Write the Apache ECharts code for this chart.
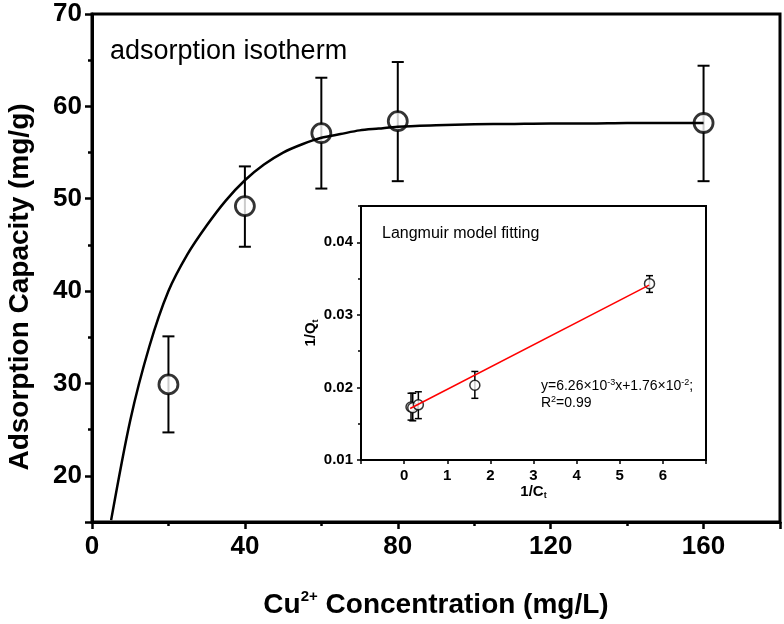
<!DOCTYPE html>
<html>
<head>
<meta charset="utf-8">
<script src="https://cdn.jsdelivr.net/npm/echarts@6/dist/echarts.min.js"></script>
<style>html,body{margin:0;padding:0;background:#fff}#c{width:784px;height:624px}</style>
</head>
<body>
<div id="c"></div>
<script>
// ---- main chart data ----
const mainX = [20, 40, 60, 80, 160];
const mainY = [29.9, 49.2, 57.1, 58.4, 58.2];
const mainErrLow = [24.7, 44.8, 51.1, 51.9, 51.9];
const mainErrHigh = [35.1, 53.5, 63.1, 64.8, 64.4];
// fitted isotherm curve
const curveX = [5, 10, 15, 20, 25, 30, 35, 40, 45, 50, 55, 60, 65, 70, 75, 80, 90, 100, 110, 120, 130, 140, 150, 160];
const curveY = [15.2, 26.0, 34.0, 40.0, 44.0, 47.1, 49.8, 52.0, 53.7, 55.0, 55.9, 56.6, 57.0, 57.4, 57.6, 57.8, 57.95, 58.05, 58.1, 58.15, 58.15, 58.2, 58.2, 58.2];
const mainXTicks = [0, 40, 80, 120, 160];
const mainYTicks = [20, 30, 40, 50, 60, 70];

// ---- inset (Langmuir) data ----
const insetX = [0.16, 0.2, 0.33, 1.64, 5.69];
const insetY = [0.0173, 0.0172, 0.0176, 0.0203, 0.0343];
const insetErrLow = [0.0155, 0.0154, 0.0157, 0.0185, 0.0331];
const insetErrHigh = [0.0192, 0.0192, 0.0194, 0.0222, 0.0354];
const fitX = [0.14, 5.68];
const fitY = [0.0171, 0.0341];
const insetXTicks = [0, 1, 2, 3, 4, 5, 6];

const F = '"Liberation Sans", Arial, sans-serif';
const zip = (a, b) => a.map((v, i) => [v, b[i]]);
const zip3 = (a, b, c) => a.map((v, i) => [v, b[i], c[i]]);

function errRender(cap, lw) {
  return function (params, api) {
    const x = api.value(0), lo = api.value(1), hi = api.value(2);
    const pHi = api.coord([x, hi]);
    const pLo = api.coord([x, lo]);
    const st = { stroke: '#000', lineWidth: lw };
    return {
      type: 'group',
      children: [
        { type: 'line', shape: { x1: pHi[0], y1: pHi[1], x2: pLo[0], y2: pLo[1] }, style: st },
        { type: 'line', shape: { x1: pHi[0] - cap, y1: pHi[1], x2: pHi[0] + cap, y2: pHi[1] }, style: st },
        { type: 'line', shape: { x1: pLo[0] - cap, y1: pLo[1], x2: pLo[0] + cap, y2: pLo[1] }, style: st }
      ]
    };
  };
}

const blackLine = (w) => ({ show: true, onZero: false, lineStyle: { color: '#000', width: w } });

const chart = echarts.init(document.getElementById('c'), null, { renderer: 'canvas' });
chart.setOption({
  animation: false,
  backgroundColor: '#fff',
  grid: [
    { left: 92, top: 14, width: 688, height: 508, show: true, borderColor: '#000', borderWidth: 3, backgroundColor: 'transparent' },
    { left: 361, top: 206, width: 345, height: 254, show: true, borderColor: '#000', borderWidth: 2, backgroundColor: '#fff' }
  ],
  xAxis: [
    { gridIndex: 0, type: 'value', position: 'bottom', min: 0, max: 180, interval: 40,
      axisLine: blackLine(3), splitLine: { show: false },
      axisTick: { show: true, inside: false, length: 7, lineStyle: { color: '#000', width: 2.5 } },
      axisLabel: { margin: 12, color: '#000', fontFamily: F, fontWeight: 'bold', fontSize: 26,
        formatter: v => mainXTicks.includes(v) ? String(v) : '' } },
    { gridIndex: 0, type: 'value', position: 'bottom', min: 0, max: 180, interval: 20,
      axisLine: { show: false, onZero: false }, splitLine: { show: false }, axisLabel: { show: false },
      axisTick: { show: true, inside: false, length: 4, lineStyle: { color: '#000', width: 2.5 } } },
    { gridIndex: 1, type: 'value', position: 'bottom', min: -1, max: 7, interval: 1,
      axisLine: blackLine(2), splitLine: { show: false },
      axisTick: { show: true, inside: false, length: 4, lineStyle: { color: '#000', width: 1.5 } },
      axisLabel: { margin: 8, color: '#000', fontFamily: F, fontWeight: 'bold', fontSize: 15,
        formatter: v => insetXTicks.includes(v) ? String(v) : '' },
      name: '{a|1/C}{b|t}', nameLocation: 'middle', nameGap: 22,
      nameTextStyle: { rich: {
        a: { fontFamily: F, fontWeight: 'bold', fontSize: 15, lineHeight: 18, color: '#000' },
        b: { fontFamily: F, fontWeight: 'bold', fontSize: 9, lineHeight: 9, verticalAlign: 'bottom', color: '#000' } } } }
  ],
  yAxis: [
    { gridIndex: 0, type: 'value', position: 'left', min: 15, max: 70,
      axisLine: blackLine(3), splitLine: { show: false },
      axisTick: { show: true, inside: false, length: 7, lineStyle: { color: '#000', width: 2.5 } },
      axisLabel: { margin: 10, color: '#000', fontFamily: F, fontWeight: 'bold', fontSize: 26,
        formatter: v => mainYTicks.includes(v) ? String(v) : '' } },
    { gridIndex: 0, type: 'value', position: 'left', min: 15, max: 70, interval: 5,
      axisLine: { show: false, onZero: false }, splitLine: { show: false }, axisLabel: { show: false },
      axisTick: { show: true, inside: false, length: 4, lineStyle: { color: '#000', width: 2.5 } } },
    { gridIndex: 1, type: 'value', position: 'left', min: 0.01, max: 0.045, interval: 0.01,
      axisLine: blackLine(2), splitLine: { show: false },
      axisTick: { show: true, inside: false, length: 4, lineStyle: { color: '#000', width: 1.5 } },
      axisLabel: { margin: 8, color: '#000', fontFamily: F, fontWeight: 'bold', fontSize: 15, showMaxLabel: false,
        formatter: v => { const s = Math.round(v * 1000) / 1000; return [0.01, 0.02, 0.03, 0.04].includes(s) ? s.toFixed(2) : ''; } },
      name: '{a|1/Q}{b|t}', nameLocation: 'middle', nameGap: 40, nameRotate: 90,
      nameTextStyle: { rich: {
        a: { fontFamily: F, fontWeight: 'bold', fontSize: 15, lineHeight: 18, color: '#000' },
        b: { fontFamily: F, fontWeight: 'bold', fontSize: 9, lineHeight: 9, verticalAlign: 'bottom', color: '#000' } } } },
    { gridIndex: 1, type: 'value', position: 'left', min: 0.01, max: 0.045, interval: 0.005,
      axisLine: { show: false, onZero: false }, splitLine: { show: false }, axisLabel: { show: false },
      axisTick: { show: true, inside: false, length: 3, lineStyle: { color: '#000', width: 1.5 } } }
  ],
  series: [
    { type: 'custom', xAxisIndex: 0, yAxisIndex: 0, renderItem: errRender(6, 2),
      data: zip3(mainX, mainErrLow, mainErrHigh), encode: { x: 0, y: [1, 2] }, z: 2 },
    { type: 'scatter', xAxisIndex: 0, yAxisIndex: 0, data: zip(mainX, mainY), symbol: 'circle', symbolSize: 19,
      itemStyle: { color: '#fff', borderColor: '#000', borderWidth: 2.8 }, z: 3 },
    { type: 'line', xAxisIndex: 0, yAxisIndex: 0, data: zip(curveX, curveY), smooth: 0.3, showSymbol: false,
      lineStyle: { color: '#000', width: 2.5 }, z: 4 },
    { type: 'custom', xAxisIndex: 2, yAxisIndex: 2, renderItem: errRender(3.5, 1.5),
      data: zip3(insetX, insetErrLow, insetErrHigh), encode: { x: 0, y: [1, 2] }, z: 5 },
    { type: 'scatter', xAxisIndex: 2, yAxisIndex: 2, data: zip(insetX, insetY), symbol: 'circle', symbolSize: 10,
      itemStyle: { color: '#fff', borderColor: '#000', borderWidth: 1.5 }, z: 6 },
    { type: 'line', xAxisIndex: 2, yAxisIndex: 2, data: zip(fitX, fitY), showSymbol: false,
      lineStyle: { color: '#ff0000', width: 1.5 }, z: 7 }
  ],
  graphic: [
    { type: 'text', left: 110, top: 38, z: 10,
      style: { text: 'adsorption isotherm', font: '27px "Liberation Sans", Arial, sans-serif', fill: '#000' } },
    { type: 'text', x: 20, y: 287, rotation: Math.PI / 2, z: 10,
      style: { text: 'Adsorption Capacity (mg/g)', font: 'bold 28px "Liberation Sans", Arial, sans-serif', fill: '#000',
        align: 'center', verticalAlign: 'middle' } },
    { type: 'text', x: 436, y: 605, z: 10,
      style: {
        text: '{a|Cu}{s|2+}{a| Concentration (mg/L)}', align: 'center', verticalAlign: 'middle',
        rich: {
          a: { fontFamily: F, fontWeight: 'bold', fontSize: 28, lineHeight: 32, fill: '#000' },
          s: { fontFamily: F, fontWeight: 'bold', fontSize: 15, lineHeight: 15, verticalAlign: 'top', fill: '#000' }
        } } },
    { type: 'text', left: 382, top: 226, z: 10,
      style: { text: 'Langmuir model fitting', font: '16px "Liberation Sans", Arial, sans-serif', fill: '#000' } },
    { type: 'text', left: 541, top: 378, z: 10,
      style: {
        text: '{n|y=6.26×10}{s|-3}{n|x+1.76×10}{s|-2}{n|;}\n{n|R}{s|2}{n|=0.99}',
        rich: {
          n: { fontFamily: F, fontSize: 14, lineHeight: 17, fill: '#000' },
          s: { fontFamily: F, fontSize: 9, lineHeight: 9, verticalAlign: 'top', fill: '#000' }
        }
      } }
  ]
});
</script>
</body>
</html>
